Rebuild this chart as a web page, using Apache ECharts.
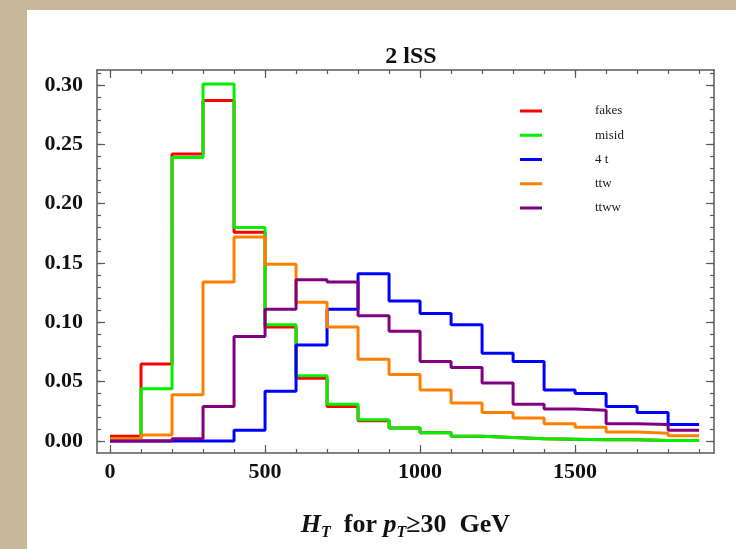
<!DOCTYPE html>
<html>
<head>
<meta charset="utf-8">
<script src="https://cdn.jsdelivr.net/npm/echarts@6/dist/echarts.min.js"></script>
<style>
  html, body { margin: 0; padding: 0; background: #c6b898; }
  #chart { width: 736px; height: 549px; }
</style>
</head>
<body>
<div id="chart"></div>
<script>
// bin left edges (GeV), bins are 100 wide
const binEdges = [0, 100, 200, 300, 400, 500, 600, 700, 800, 900, 1000, 1100, 1200, 1300, 1400, 1500, 1600, 1700, 1800];
const binEnd = 1900;

const fakes = [0.004, 0.065, 0.242, 0.287, 0.176, 0.096, 0.053, 0.029, 0.017, 0.011, 0.007, 0.004, 0.003, 0.002, 0.0015, 0.001, 0.001, 0.0005, 0.0005];
const misid = [0.002, 0.044, 0.239, 0.301, 0.180, 0.098, 0.055, 0.031, 0.018, 0.011, 0.007, 0.004, 0.003, 0.002, 0.0015, 0.001, 0.001, 0.0005, 0.0005];
const fourTop = [0.0, 0.0, 0.0, 0.0, 0.009, 0.042, 0.081, 0.111, 0.141, 0.118, 0.1075, 0.098, 0.074, 0.067, 0.043, 0.040, 0.029, 0.024, 0.014];
const ttw = [0.002, 0.005, 0.039, 0.134, 0.172, 0.149, 0.117, 0.096, 0.069, 0.056, 0.043, 0.032, 0.024, 0.0195, 0.0145, 0.0117, 0.0075, 0.0066, 0.0044];
const ttww = [0.0, 0.0, 0.002, 0.029, 0.088, 0.111, 0.136, 0.134, 0.1055, 0.0925, 0.067, 0.062, 0.049, 0.031, 0.027, 0.026, 0.0145, 0.014, 0.009];

const seriesNames = ["fakes", "misid", "4 t", "ttw", "ttww"];
const seriesColors = ["#ff0000", "#00f000", "#0000ff", "#ff8000", "#800080"];

// tick positions
const xMinorTicks = [];
for (let v = 0; v <= 1900; v += 100) xMinorTicks.push(v);
const xMajorTicks = [0, 500, 1000, 1500];
const yMinorTicks = [];
for (let i = 0; i <= 31; i++) yMinorTicks.push(+(i * 0.01).toFixed(2));
const yMajorTicks = [0, 0.05, 0.1, 0.15, 0.2, 0.25, 0.3];

const X_MIN = -42, X_MAX = 1948;
const Y_MIN = -0.0101, Y_MAX = 0.3127;
const serif = "Liberation Serif";
const frameColor = "#5a5a5a";

function histData(vals) {
  const d = binEdges.map((x, i) => [x, vals[i]]);
  d.push([binEnd, vals[vals.length - 1]]);
  return d;
}

function xAxisDef(pos, ticks, len, showLine, labels) {
  return {
    type: "value", position: pos, min: X_MIN, max: X_MAX,
    axisLine: { show: showLine, onZero: false, lineStyle: { color: frameColor, width: 1.5 } },
    axisTick: { show: true, inside: true, length: len, customValues: ticks, lineStyle: { color: frameColor, width: 1.2 } },
    axisLabel: labels ? {
      show: true, customValues: xMajorTicks, margin: 8,
      formatter: v => String(v),
      fontFamily: serif, fontWeight: "bold", fontSize: 22, color: "#111"
    } : { show: false },
    splitLine: { show: false }
  };
}

function yAxisDef(pos, ticks, len, showLine, labels) {
  return {
    type: "value", position: pos, min: Y_MIN, max: Y_MAX,
    axisLine: { show: showLine, onZero: false, lineStyle: { color: frameColor, width: 1.5 } },
    axisTick: { show: true, inside: true, length: len, customValues: ticks, lineStyle: { color: frameColor, width: 1.2 } },
    axisLabel: labels ? {
      show: true, customValues: yMajorTicks, margin: 14,
      formatter: v => v.toFixed(2),
      fontFamily: serif, fontWeight: "bold", fontSize: 22, color: "#111"
    } : { show: false },
    splitLine: { show: false }
  };
}

const chart = echarts.init(document.getElementById("chart"));

const xMain = xAxisDef("bottom", xMinorTicks, 4, true, true);
xMain.name = "{i|H}{s|T}{b|  for }{i|p}{s|T}{b|≥30  GeV}";
xMain.nameLocation = "middle";
xMain.nameGap = 56;
xMain.nameTextStyle = {
  fontFamily: serif, color: "#111",
  rich: {
    i: { fontFamily: serif, fontStyle: "italic", fontWeight: "bold", fontSize: 26, color: "#111", lineHeight: 32, verticalAlign: "middle" },
    s: { fontFamily: serif, fontStyle: "italic", fontWeight: "bold", fontSize: 16, color: "#111", lineHeight: 32, verticalAlign: "bottom" },
    b: { fontFamily: serif, fontWeight: "bold", fontSize: 26, color: "#111", lineHeight: 32, verticalAlign: "middle" }
  }
};

chart.setOption({
  backgroundColor: "#c6b898",
  animation: false,
  graphic: [{
    type: "rect", z: -10, silent: true,
    shape: { x: 27, y: 10, width: 720, height: 560 },
    style: { fill: "#ffffff" }
  }],
  title: {
    text: "2 lSS",
    left: 406, top: 40, textAlign: "center",
    textStyle: { fontFamily: serif, fontWeight: "bold", fontSize: 24, color: "#111" }
  },
  legend: {
    orient: "vertical", left: 515, top: 99,
    icon: "rect", itemWidth: 22, itemHeight: 3, itemGap: 10.25,
    data: seriesNames,
    textStyle: { fontFamily: serif, fontSize: 13, color: "#222", lineHeight: 14, padding: [0, 0, 0, 48] }
  },
  grid: { left: 97, top: 70, right: 22, bottom: 96, show: false },
  xAxis: [
    xMain,
    xAxisDef("bottom", xMajorTicks, 8, false, false),
    xAxisDef("top", xMinorTicks, 4, true, false),
    xAxisDef("top", xMajorTicks, 8, false, false)
  ],
  yAxis: [
    yAxisDef("left", yMinorTicks, 4, true, true),
    yAxisDef("left", yMajorTicks, 8, false, false),
    yAxisDef("right", yMinorTicks, 4, true, false),
    yAxisDef("right", yMajorTicks, 8, false, false)
  ],
  series: [fakes, misid, fourTop, ttw, ttww].map((vals, i) => ({
    name: seriesNames[i],
    type: "line",
    step: "end",
    xAxisIndex: 0, yAxisIndex: 0,
    showSymbol: false, symbol: "none",
    color: seriesColors[i],
    lineStyle: { color: seriesColors[i], width: 3 },
    data: histData(vals)
  }))
});
</script>
</body>
</html>
